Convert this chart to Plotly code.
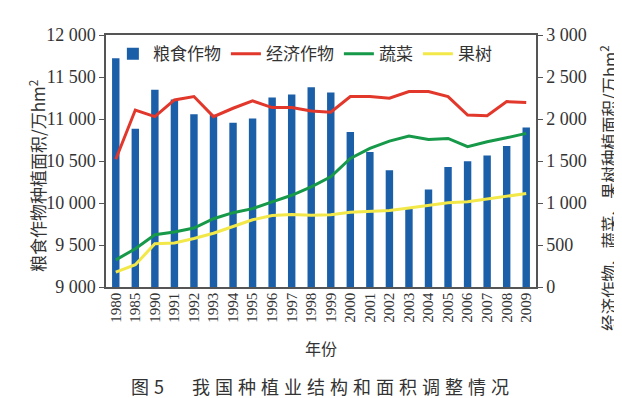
import plotly.graph_objects as go

years = ["1980", "1985", "1990", "1991", "1992", "1993", "1994", "1995", "1996", "1997", "1998",
         "1999", "2000", "2001", "2002", "2003", "2004", "2005", "2006", "2007", "2008", "2009"]
grain = [11723, 10884, 11347, 11231, 11056, 11051, 10954, 11006, 11255, 11291, 11379,
         11316, 10846, 10608, 10389, 9941, 10161, 10428, 10496, 10564, 10679, 10899]
economic = [1520, 2107, 2028, 2227, 2267, 2028, 2128, 2215, 2136, 2136, 2096,
            2080, 2267, 2267, 2247, 2327, 2327, 2267, 2048, 2040, 2207, 2195]
vegetable = [323, 455, 622, 654, 702, 813, 885, 933, 1013, 1092, 1192,
             1312, 1530, 1650, 1737, 1797, 1757, 1769, 1670, 1729, 1777, 1829]
fruit = [178, 265, 514, 525, 578, 640, 720, 800, 850, 862, 853,
         860, 890, 904, 912, 940, 975, 1002, 1015, 1046, 1073, 1112]

left_ticks = [9000, 9500, 10000, 10500, 11000, 11500, 12000]
left_text = ["9 000", "9 500", "10 000", "10 500", "11 000", "11 500", "12 000"]
right_ticks = [0, 500, 1000, 1500, 2000, 2500, 3000]
right_text = ["0", "500", "1 000", "1 500", "2 000", "2 500", "3 000"]

serif = "Liberation Serif"
cjk = "Noto Sans CJK SC"
txt = "#333333"

fig = go.Figure()
fig.add_trace(go.Bar(x=years, y=grain, name="粮食作物", marker=dict(color="#1b5fa8", line=dict(width=0)),
                     yaxis="y"))
fig.add_trace(go.Scatter(x=years, y=economic, name="经济作物", mode="lines",
                         line=dict(color="#e2372b", width=3), yaxis="y2"))
fig.add_trace(go.Scatter(x=years, y=vegetable, name="蔬菜", mode="lines",
                         line=dict(color="#17994a", width=3), yaxis="y2"))
fig.add_trace(go.Scatter(x=years, y=fruit, name="果树", mode="lines",
                         line=dict(color="#f3e84a", width=3), yaxis="y2"))

axis_color = "#555555"
fig.update_layout(
    width=622, height=398,
    margin=dict(l=98, r=94, t=27, b=119),
    paper_bgcolor="white", plot_bgcolor="white",
    bargap=0.62,
    showlegend=True,
    legend=dict(orientation="h", x=0.016, y=0.995, xanchor="left", yanchor="top",
                font=dict(family=cjk, size=17, color=txt),
                bgcolor="rgba(0,0,0,0)", itemwidth=30, tracegroupgap=0),
    xaxis=dict(type="category", tickangle=-90, tickfont=dict(family=serif, size=15, color=txt),
               showline=True, linecolor=axis_color, linewidth=1.5, mirror=True,
               ticks="", showgrid=False, ticklabelstandoff=-2),
    yaxis=dict(range=[9000, 12000], tickvals=left_ticks, ticktext=left_text,
               tickfont=dict(family=serif, size=18, color=txt),
               showline=True, linecolor=axis_color, linewidth=1.5, ticks="outside", ticklen=5,
               tickcolor=axis_color, showgrid=False, zeroline=False),
    yaxis2=dict(range=[0, 3000], tickvals=right_ticks, ticktext=right_text, overlaying="y", side="right",
                tickfont=dict(family=serif, size=18, color=txt),
                showline=True, linecolor=axis_color, linewidth=1.5, ticks="outside", ticklen=5,
                tickcolor=axis_color, showgrid=False, zeroline=False),
    annotations=[
        dict(text="粮食作物种植面积/万hm<sup>2</sup>", xref="paper", yref="paper",
             x=(29 - 98) / 430, y=(279 - 168) / 252, xanchor="center", yanchor="middle",
             textangle=-90, showarrow=False, font=dict(family=cjk, size=17, color=txt)),
        dict(text="经济作物、蔬菜、果树种植面积/万hm<sup>2</sup>", xref="paper", yref="paper",
             x=(600 - 98) / 430, y=(279 - 180) / 252, xanchor="center", yanchor="middle",
             textangle=-90, showarrow=False, font=dict(family=cjk, size=16.5, color=txt)),
        dict(text="年份", xref="paper", yref="paper",
             x=(313 - 98) / 430, y=(279 - 340) / 252, xanchor="center", yanchor="middle",
             showarrow=False, font=dict(family=cjk, size=16, color=txt)),
        dict(text='<span style="letter-spacing:5px">图5　我国种植业结构和面积调整情况</span>',
             xref="paper", yref="paper",
             x=(314 - 98) / 430, y=(279 - 378) / 252, xanchor="center", yanchor="middle",
             showarrow=False, font=dict(family=cjk, size=18, color=txt)),
    ],
)

fig.write_html("out.html")
